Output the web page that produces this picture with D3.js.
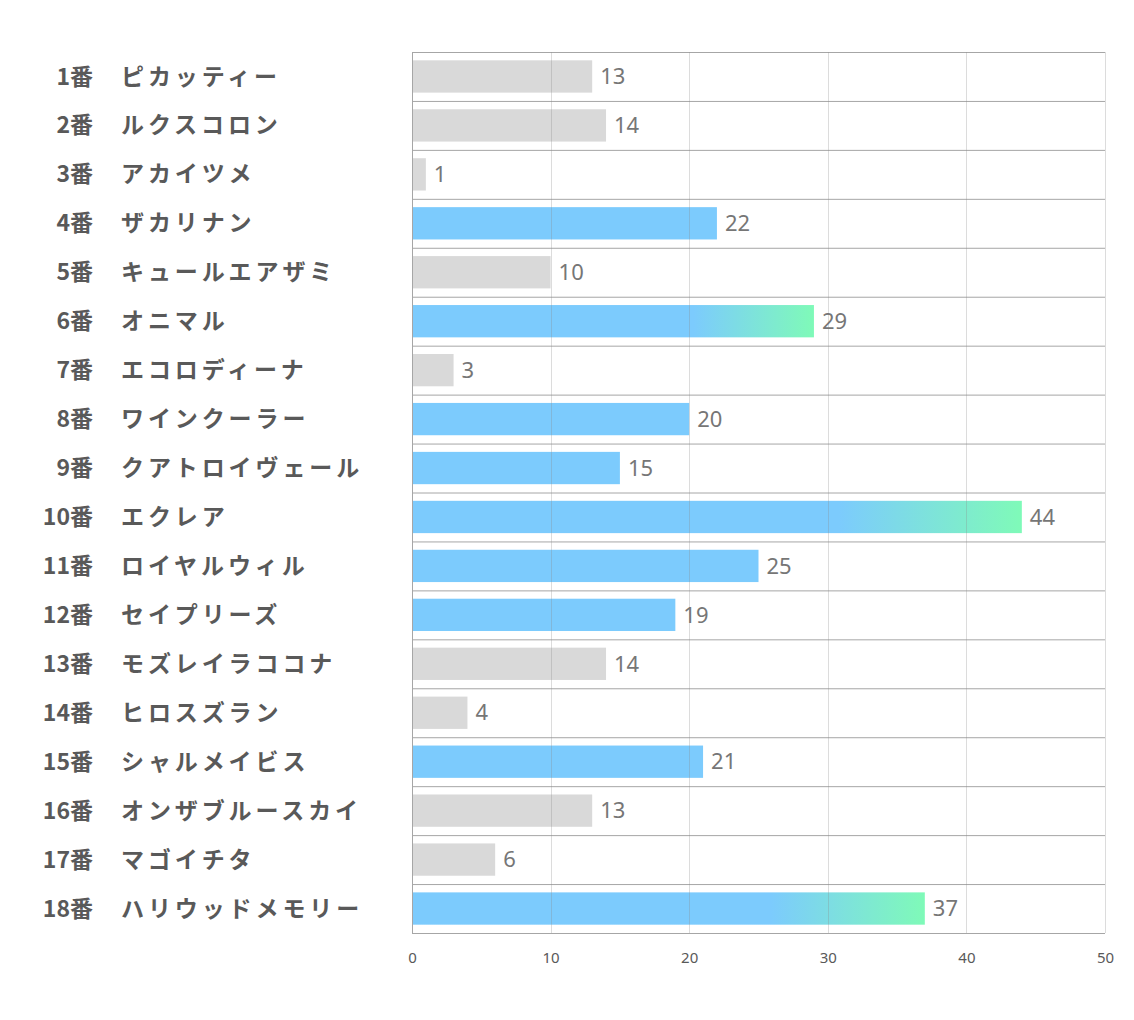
<!DOCTYPE html>
<html>
<head>
<meta charset="utf-8">
<script src="https://cdn.jsdelivr.net/npm/d3@7"></script>
<style>
  body { margin: 0; background: #fff; }
  svg { display: block; }
</style>
</head>
<body>
<div id="chart"></div>
<script>
// horse numbers, names and values
var numbers = ["1番","2番","3番","4番","5番","6番","7番","8番","9番","10番","11番","12番","13番","14番","15番","16番","17番","18番"];
var names = ["ピカッティー","ルクスコロン","アカイツメ","ザカリナン","キュールエアザミ","オニマル","エコロディーナ","ワインクーラー","クアトロイヴェール","エクレア","ロイヤルウィル","セイプリーズ","モズレイラココナ","ヒロスズラン","シャルメイビス","オンザブルースカイ","マゴイチタ","ハリウッドメモリー"];
var values = [13,14,1,22,10,29,3,20,15,44,25,19,14,4,21,13,6,37];
// g = gray, b = blue, t = blue with green end (top 3)
var kinds = ["g","g","g","b","g","t","g","b","b","t","b","b","g","g","b","g","g","t"];
var ticks = [0,10,20,30,40,50];

var width = 1134, height = 1020;
var margin = {top: 52, right: 29, bottom: 87, left: 412};

var svg = d3.select("#chart").append("svg")
    .attr("width", width)
    .attr("height", height);

var defs = svg.append("defs");
var grad = defs.append("linearGradient")
    .attr("id", "topgrad")
    .attr("x1", "0").attr("x2", "1").attr("y1", "0").attr("y2", "0");
grad.append("stop").attr("offset", "0").attr("stop-color", "#7ccbfd");
grad.append("stop").attr("offset", "0.7").attr("stop-color", "#7ccbfd");
grad.append("stop").attr("offset", "1").attr("stop-color", "#7ffab8");

var x = d3.scaleLinear().domain([0, 50]).range([margin.left, width - margin.right]);
var y = d3.scaleBand().domain(d3.range(names.length))
    .range([margin.top, height - margin.bottom])
    .paddingInner(0.34).paddingOuter(0.17);
var step = y.step();

var fills = {g: "#d9d9d9", b: "#7ccbfd", t: "url(#topgrad)"};

// row separators
svg.selectAll(".rowline").data(d3.range(names.length + 1)).enter().append("line")
    .attr("class", "rowline")
    .attr("x1", x(0)).attr("x2", x(50))
    .attr("y1", function(d){ return margin.top + d * step + 0.5; })
    .attr("y2", function(d){ return margin.top + d * step + 0.5; })
    .attr("stroke", "#a6a6a6")
    .attr("stroke-width", 1);

// bars
svg.selectAll(".bar").data(values).enter().append("rect")
    .attr("class", "bar")
    .attr("x", x(0))
    .attr("y", function(d, i){ return y(i); })
    .attr("width", function(d){ return x(d) - x(0); })
    .attr("height", y.bandwidth())
    .attr("fill", function(d, i){ return fills[kinds[i]]; });

// vertical gridlines, over the bars so they show through like the original
svg.selectAll(".vgrid").data(ticks).enter().append("line")
    .attr("class", "vgrid")
    .attr("x1", function(d){ return Math.round(x(d)) + 0.5; })
    .attr("x2", function(d){ return Math.round(x(d)) + 0.5; })
    .attr("y1", margin.top)
    .attr("y2", height - margin.bottom)
    .attr("stroke", function(d){ return d === 0 ? "#a6a6a6" : "#8c8c8c"; })
    .attr("stroke-opacity", function(d){ return d === 0 ? 1 : 0.3; })
    .attr("stroke-width", 1);

// value labels
svg.selectAll(".val").data(values).enter().append("text")
    .attr("class", "val")
    .attr("x", function(d){ return x(d) + 8; })
    .attr("y", function(d, i){ return y(i) + y.bandwidth() / 2; })
    .attr("dy", "0.35em")
    .attr("font-family", "'Noto Sans', 'Open Sans', sans-serif")
    .attr("font-size", 22)
    .attr("fill", "#767676")
    .text(function(d){ return d; });

// category labels: number right aligned, name left aligned
var labelFont = "'Noto Sans CJK JP', 'Noto Sans', sans-serif";
svg.selectAll(".num").data(numbers).enter().append("text")
    .attr("class", "num")
    .attr("x", 93)
    .attr("y", function(d, i){ return y(i) + y.bandwidth() / 2; })
    .attr("dy", "0.35em")
    .attr("text-anchor", "end")
    .attr("font-family", labelFont)
    .attr("font-weight", "bold")
    .attr("font-size", 23)
    .attr("fill", "#595959")
    .text(function(d){ return d; });

svg.selectAll(".name").data(names).enter().append("text")
    .attr("class", "name")
    .attr("x", 121)
    .attr("y", function(d, i){ return y(i) + y.bandwidth() / 2; })
    .attr("dy", "0.35em")
    .attr("font-family", labelFont)
    .attr("font-weight", "bold")
    .attr("font-size", 23)
    .attr("letter-spacing", 3.9)
    .attr("fill", "#595959")
    .text(function(d){ return d; });

// x axis
var axis = svg.append("g")
    .attr("transform", "translate(0," + (height - margin.bottom + 16) + ")")
    .call(d3.axisBottom(x).tickValues(ticks).tickSize(0));
axis.select(".domain").remove();
axis.selectAll("text")
    .attr("font-family", "'Noto Sans', sans-serif")
    .attr("font-size", 15)
    .attr("fill", "#595959");
</script>
</body>
</html>
